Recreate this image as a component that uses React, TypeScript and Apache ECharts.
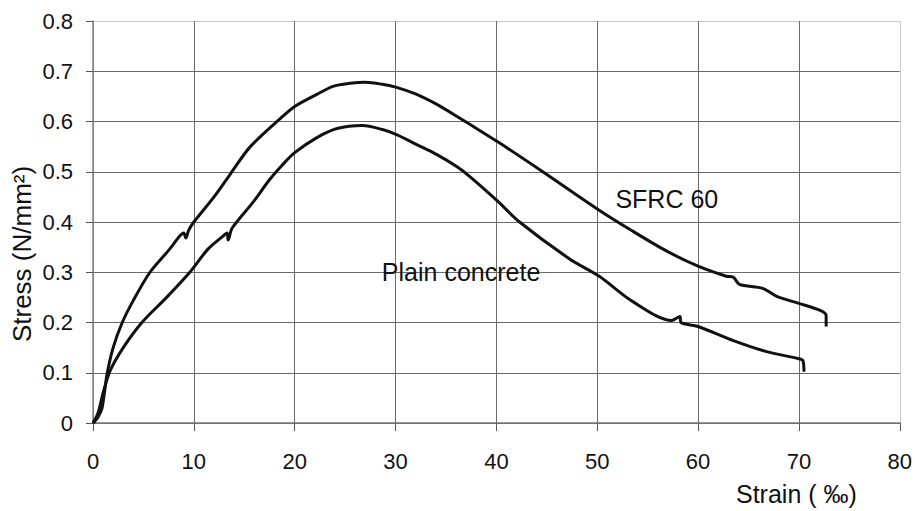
import React, { useEffect, useRef } from "react";
import * as echarts from "echarts";

const sfrcStrain = [0, 0.2, 0.5, 0.9, 1.4, 2.0, 2.9, 4.0, 5.65, 7.6, 8.6, 9.0, 9.2, 9.5, 10.0, 12.0, 13.6, 15.6, 18.8, 20.0, 22.2, 23.8, 25.5, 27.0, 28.7, 30.1, 32.1, 34.1, 36.1, 37.4, 40.1, 44.6, 50.0, 53.5, 56.9, 60.0, 62.8, 63.5, 64.1, 66.4, 67.8, 70.0, 72.1, 72.7, 72.7];
const sfrcStress = [0, 0.004, 0.012, 0.03, 0.098, 0.15, 0.2, 0.244, 0.3, 0.346, 0.372, 0.378, 0.368, 0.384, 0.4, 0.45, 0.495, 0.55, 0.61, 0.63, 0.654, 0.67, 0.676, 0.678, 0.674, 0.668, 0.654, 0.634, 0.61, 0.594, 0.56, 0.5, 0.426, 0.382, 0.342, 0.312, 0.292, 0.29, 0.276, 0.268, 0.252, 0.238, 0.224, 0.214, 0.192];

const plainStrain = [0, 0.5, 1.0, 1.7, 3.0, 4.85, 7.3, 9.6, 11.4, 12.9, 13.3, 13.4, 13.8, 15.9, 17.5, 18.8, 20.0, 22.2, 24.2, 26.7, 28.7, 30.1, 32.1, 34.1, 36.1, 37.4, 40.1, 42.3, 47.3, 50.2, 53.5, 57.4, 58.2, 58.3, 60.0, 63.5, 66.8, 70.0, 70.4, 70.5];
const plainStress = [0, 0.02, 0.06, 0.104, 0.15, 0.2, 0.25, 0.3, 0.346, 0.372, 0.378, 0.364, 0.388, 0.44, 0.484, 0.514, 0.538, 0.568, 0.586, 0.592, 0.584, 0.574, 0.554, 0.534, 0.51, 0.49, 0.442, 0.4, 0.326, 0.292, 0.242, 0.204, 0.212, 0.2, 0.192, 0.164, 0.142, 0.128, 0.124, 0.102];

const xTicks = [0, 10, 20, 30, 40, 50, 60, 70, 80];
const yTicks = [0, 0.1, 0.2, 0.3, 0.4, 0.5, 0.6, 0.7, 0.8];

const labelSfrc = { text: "SFRC 60", x: 56.9, y: 0.446 };
const labelPlain = { text: "Plain concrete", x: 36.5, y: 0.3 };

const FONT = "'Liberation Sans', Arial, sans-serif";

export default function App() {
  const ref = useRef<HTMLDivElement>(null);
  useEffect(() => {
    if (!ref.current) return;
    const chart = echarts.init(ref.current, null, { renderer: "svg" });
    const pair = (xs: number[], ys: number[]) => xs.map((x, i) => [x, ys[i]]);
    const inner = "#6a6a6a";
    const outer = "#c8c8c8";
    const mp = (l: { text: string; x: number; y: number }) => ({
      symbol: "circle",
      symbolSize: 0,
      silent: true,
      data: [
        {
          coord: [l.x, l.y],
          label: {
            show: true,
            position: "inside",
            formatter: l.text,
            color: "#111",
            fontSize: 25,
            fontFamily: FONT,
          },
        },
      ],
    });
    chart.setOption({
      animation: false,
      backgroundColor: "#fff",
      grid: { left: 93, right: 15, top: 21, bottom: 88, containLabel: false },
      xAxis: {
        type: "value",
        min: xTicks[0],
        max: xTicks[xTicks.length - 1],
        interval: 10,
        axisLine: { show: true, lineStyle: { color: "#777", width: 1.5 } },
        axisTick: { show: true, length: 8, lineStyle: { color: "#555" } },
        axisLabel: { color: "#111", fontSize: 22, fontFamily: FONT, margin: 27 },
        splitLine: {
          show: true,
          lineStyle: { color: xTicks.map((t, i) => (i === xTicks.length - 1 ? outer : inner)), width: 1 },
        },
      },
      yAxis: {
        type: "value",
        min: yTicks[0],
        max: yTicks[yTicks.length - 1],
        interval: 0.1,
        axisLine: { show: true, lineStyle: { color: "#888", width: 1.5 } },
        axisTick: { show: true, length: 7, lineStyle: { color: "#555" } },
        axisLabel: {
          color: "#111",
          fontSize: 22,
          fontFamily: FONT,
          margin: 20,
          formatter: (v: number) => (Math.round(v * 10) / 10).toString(),
        },
        splitLine: {
          show: true,
          lineStyle: { color: yTicks.map((t, i) => (i === yTicks.length - 1 ? outer : inner)), width: 1 },
        },
      },
      series: [
        {
          name: "SFRC 60",
          type: "line",
          data: pair(sfrcStrain, sfrcStress),
          symbol: "none",
          smooth: 0.3,
          lineStyle: { color: "#111", width: 3 },
          markPoint: mp(labelSfrc),
        },
        {
          name: "Plain concrete",
          type: "line",
          data: pair(plainStrain, plainStress),
          symbol: "none",
          smooth: 0.3,
          lineStyle: { color: "#111", width: 3 },
          markPoint: mp(labelPlain),
        },
      ],
      graphic: [
        {
          type: "text",
          left: 736,
          top: 481,
          style: { text: "Strain ( \u2030)", fontSize: 25, fontFamily: FONT, fill: "#111" },
        },
        {
          type: "text",
          x: 22,
          y: 254,
          rotation: Math.PI / 2,
          style: {
            text: "Stress (N/mm\u00B2)",
            fontSize: 26,
            fontFamily: FONT,
            fill: "#111",
            align: "center",
            verticalAlign: "middle",
          },
        },
      ],
    });
    return () => chart.dispose();
  }, []);
  return <div ref={ref} style={{ position: "absolute", left: 0, top: 0, width: 915, height: 511 }} />;
}
